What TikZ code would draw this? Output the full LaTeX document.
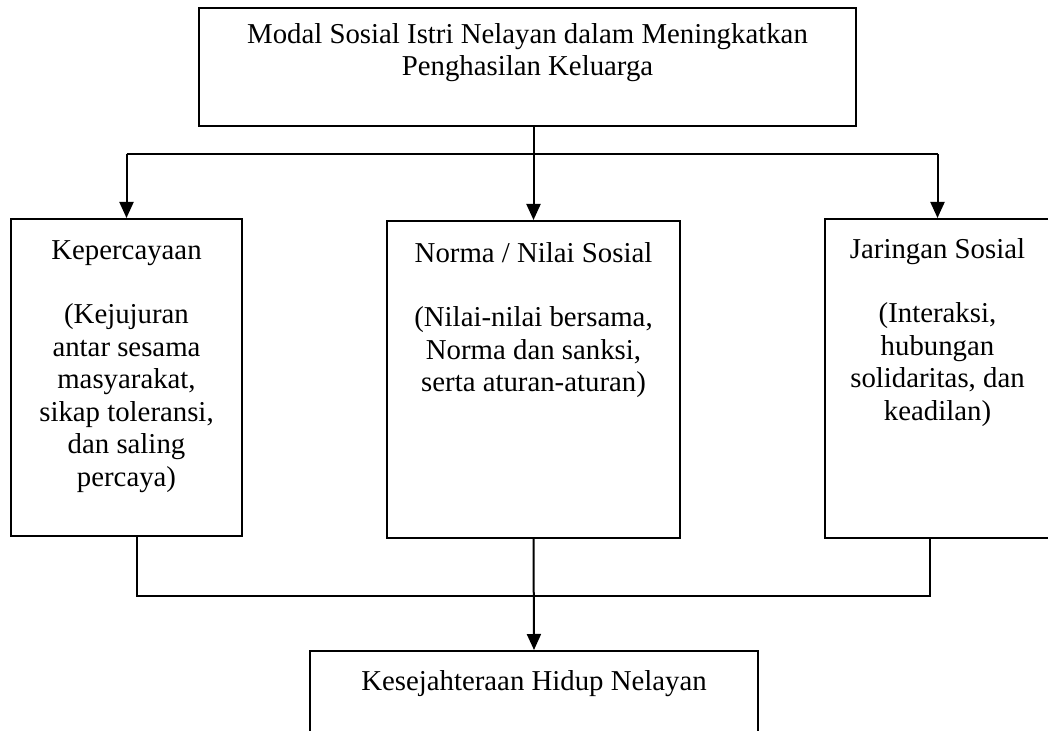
\documentclass[tikz,border=0pt]{standalone}
\usepackage{fontspec}
\setmainfont{Liberation Serif}
\usetikzlibrary{arrows.meta, positioning}

\begin{document}
\begin{tikzpicture}[
    x=0.5pt, y=-0.5pt,
    box/.style={rectangle, draw, line width=1pt, inner sep=0pt},
    txt/.style={inner sep=0pt, align=center, font=\fontsize{14.4pt}{16.25pt}\selectfont},
    line/.style={line width=1pt},
    arrow/.style={line width=1pt, -{Triangle[length=8pt, width=7pt]}},
]
\clip (0,0) rectangle (1048,731);
\fill[white] (0,0) rectangle (1048,731);

\node[box, minimum width=328.5pt, minimum height=59pt] (modal) at (527.5,67) {};
\node[txt, below=8pt of modal.north] (modaltxt)
    {Modal Sosial Istri Nelayan dalam Meningkatkan\\Penghasilan Keluarga};

\node[box, minimum width=115.5pt, minimum height=158.5pt] (kep) at (126.5,377.5) {};
\node[txt, below=11pt of kep.north] (keptxt)
    {Kepercayaan\\[16pt](Kejujuran\\antar sesama\\masyarakat,\\sikap toleransi,\\dan saling\\percaya)};

\node[box, minimum width=146.5pt, minimum height=158.5pt] (norma) at (533.5,379.5) {};
\node[txt, below=11pt of norma.north] (normatxt)
    {Norma / Nilai Sosial\\[16pt](Nilai-nilai bersama,\\Norma dan sanksi,\\serta aturan-aturan)};

\node[box, minimum width=112.5pt, minimum height=159.5pt] (jaring) at (937.5,378.5) {};
\node[txt, below=10pt of jaring.north] (jaringtxt)
    {Jaringan Sosial\\[16pt](Interaksi,\\hubungan\\solidaritas, dan\\keadilan)};

\node[box, minimum width=224pt, minimum height=60pt] (sejahtera) at (534,711) {};
\node[txt, below=10pt of sejahtera.north] (sejahteratxt) {Kesejahteraan Hidup Nelayan};

% cabang atas
\coordinate (modalout) at (norma.north |- modal.south);
\coordinate (split) at (norma.north |- 0,154);
\draw[line] (kep.north |- split) -- (jaring.north |- split);
\draw[line] (modalout) -- (split);
\draw[arrow] (split) -- (norma.north);
\draw[arrow] (kep.north |- split) -- (kep.north);
\draw[arrow] (jaring.north |- split) -- (jaring.north);

% cabang bawah
\coordinate (kepout) at (137,0 |- kep.south);
\coordinate (jaringout) at (930,0 |- jaring.south);
\coordinate (join) at (0,596);
\draw[line] (kepout) -- (kepout |- join) -- (jaringout |- join) -- (jaringout);
\draw[arrow] (norma.south) -- (sejahtera.north);
\end{tikzpicture}
\end{document}
